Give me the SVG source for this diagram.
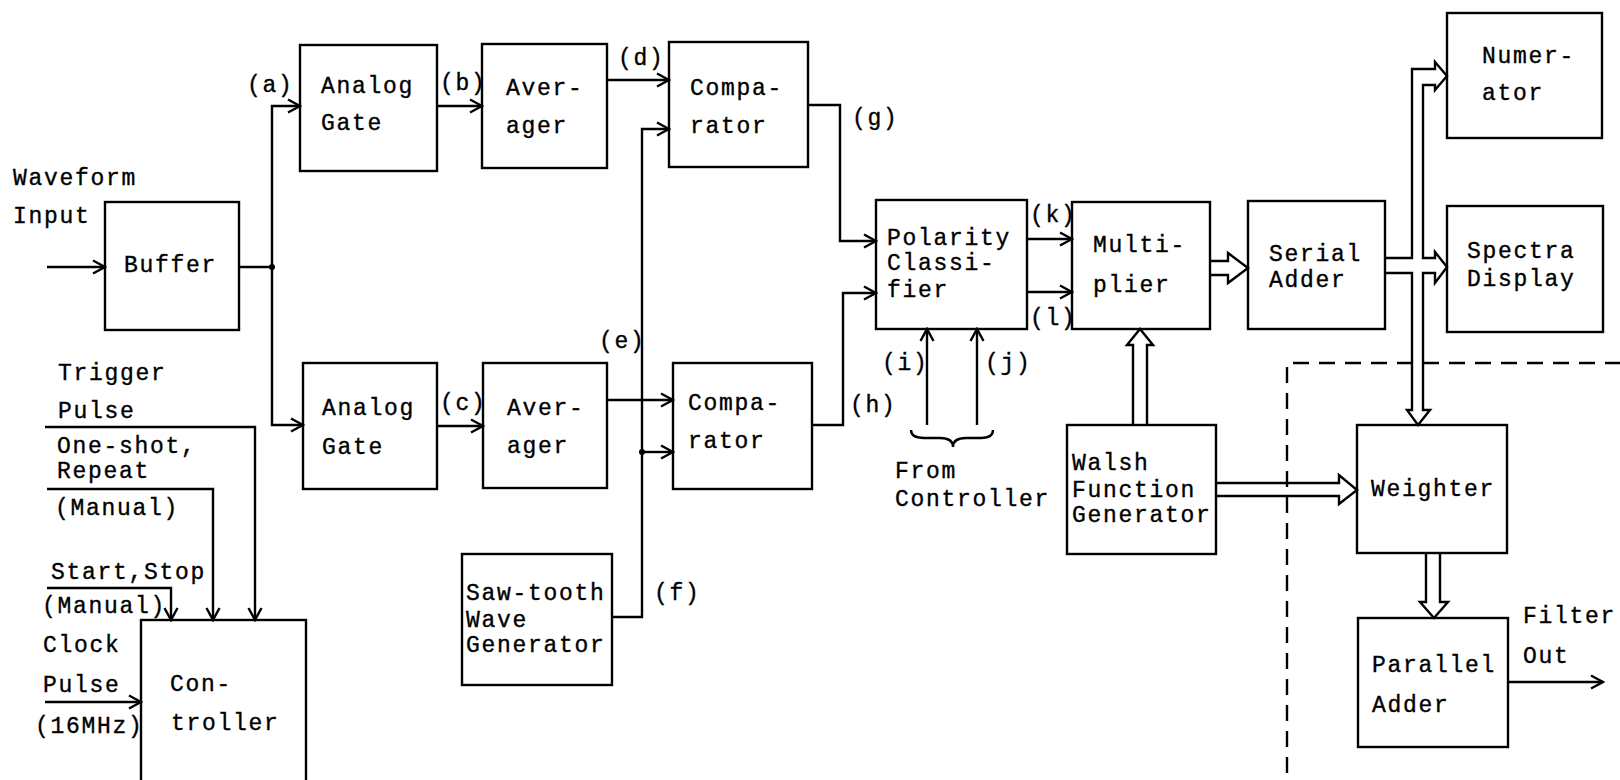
<svg xmlns="http://www.w3.org/2000/svg" width="1620" height="780" viewBox="0 0 1620 780">
<style>
  .box{fill:none;stroke:#000;stroke-width:2.4}
  .ln{fill:none;stroke:#000;stroke-width:2.4;stroke-linejoin:miter}
  .bus{fill:none;stroke:#000;stroke-width:2.4;stroke-linejoin:miter}
  .dash{fill:none;stroke:#000;stroke-width:2.4;stroke-dasharray:16 10}
  text{font-family:"Liberation Mono","DejaVu Sans Mono",monospace;font-size:23px;letter-spacing:1.7px;fill:#000;stroke:#000;stroke-width:0.35}
</style>
<defs>
  <marker id="arr" markerUnits="userSpaceOnUse" markerWidth="16" markerHeight="16" viewBox="0 0 16 16" refX="14" refY="8" orient="auto">
    <path d="M2,1.5 L14,8 L2,14.5" fill="none" stroke="#000" stroke-width="2.4"/>
  </marker>
</defs>
<rect width="1620" height="780" fill="#fff"/>

<g id="connectors">
  <path class="ln" d="M47,267 H105" marker-end="url(#arr)"/>
  <path class="ln" d="M239,267 H272"/>
  <path class="ln" d="M272,267 V106 H300" marker-end="url(#arr)"/>
  <path class="ln" d="M272,267 V425 H303" marker-end="url(#arr)"/>
  <circle cx="272" cy="267" r="3" fill="#000"/>
  <path class="ln" d="M437,106 H482" marker-end="url(#arr)"/>
  <path class="ln" d="M437,426 H483" marker-end="url(#arr)"/>
  <path class="ln" d="M607,80 H669" marker-end="url(#arr)"/>
  <path class="ln" d="M607,400 H673" marker-end="url(#arr)"/>
  <path class="ln" d="M612,617 H642 V129 H669" marker-end="url(#arr)"/>
  <path class="ln" d="M642,452 H673" marker-end="url(#arr)"/>
  <circle cx="642" cy="452" r="3" fill="#000"/>
  <path class="ln" d="M808,105 H840 V241 H876" marker-end="url(#arr)"/>
  <path class="ln" d="M812,425 H843 V293 H876" marker-end="url(#arr)"/>
  <path class="ln" d="M1027,239 H1072" marker-end="url(#arr)"/>
  <path class="ln" d="M1027,292 H1072" marker-end="url(#arr)"/>
  <path class="ln" d="M927,425 V329" marker-end="url(#arr)"/>
  <path class="ln" d="M977,425 V329" marker-end="url(#arr)"/>
  <path class="ln" d="M911,430 Q911,438 924,438 L940,438 Q953,438 953,447 Q953,438 966,438 L981,438 Q993,438 993,430"/>
  <path class="ln" d="M45,427 H255 V620" marker-end="url(#arr)"/>
  <path class="ln" d="M47,489 H213 V620" marker-end="url(#arr)"/>
  <path class="ln" d="M47,588 H171 V620" marker-end="url(#arr)"/>
  <path class="ln" d="M45,702 H141" marker-end="url(#arr)"/>
  <path class="ln" d="M1508,682 H1603" marker-end="url(#arr)"/>
  <path class="bus" d="M1210,261 H1228 V253 L1248,268 L1228,283 V275 H1210"/>
  <path class="bus" d="M1133,425 V345 H1127 L1140,329 L1153,345 H1147 V425"/>
  <path class="bus" d="M1216,483 H1339 V475 L1357,490 L1339,504 V496 H1216"/>
  <path class="bus" d="M1426,553 V602 H1420 L1434,618 L1448,602 H1440 V553"/>
  <path class="bus" d="M1385,258 H1412 V69 H1435 V62 L1447,76 L1435,90 V85 H1423 V258 H1435 V252 L1447,267 L1435,283 V273 H1423 V410 H1430 L1418,425 L1407,410 H1412 V273 H1385"/>
  <path class="dash" d="M1287,773 V363 H1620"/>
</g>

<g id="buffer"><rect class="box" x="105" y="202" width="134" height="128"/><text x="124" y="272">Buffer</text></g>
<g id="analog-gate-1"><rect class="box" x="300" y="45" width="137" height="126"/><text x="321" y="93">Analog</text><text x="321" y="130">Gate</text></g>
<g id="averager-1"><rect class="box" x="482" y="44" width="125" height="124"/><text x="506" y="95">Aver-</text><text x="506" y="133">ager</text></g>
<g id="comparator-1"><rect class="box" x="669" y="42" width="139" height="125"/><text x="690" y="95">Compa-</text><text x="690" y="133">rator</text></g>
<g id="analog-gate-2"><rect class="box" x="303" y="363" width="134" height="126"/><text x="322" y="415">Analog</text><text x="322" y="454">Gate</text></g>
<g id="averager-2"><rect class="box" x="483" y="363" width="124" height="125"/><text x="507" y="415">Aver-</text><text x="507" y="453">ager</text></g>
<g id="comparator-2"><rect class="box" x="673" y="363" width="139" height="126"/><text x="688" y="410">Compa-</text><text x="688" y="448">rator</text></g>
<g id="sawtooth"><rect class="box" x="462" y="554" width="150" height="131"/><text x="466" y="600">Saw-tooth</text><text x="466" y="627">Wave</text><text x="466" y="652">Generator</text></g>
<g id="controller"><rect class="box" x="141" y="620" width="165" height="175"/><text x="170" y="691">Con-</text><text x="171" y="730">troller</text></g>
<g id="polarity"><rect class="box" x="876" y="200" width="151" height="129"/><text x="887" y="245">Polarity</text><text x="887" y="270">Classi-</text><text x="887" y="297">fier</text></g>
<g id="multiplier"><rect class="box" x="1072" y="202" width="138" height="127"/><text x="1093" y="252">Multi-</text><text x="1093" y="292">plier</text></g>
<g id="walsh"><rect class="box" x="1067" y="425" width="149" height="129"/><text x="1072" y="470">Walsh</text><text x="1072" y="497">Function</text><text x="1072" y="522">Generator</text></g>
<g id="serial-adder"><rect class="box" x="1248" y="201" width="137" height="128"/><text x="1269" y="261">Serial</text><text x="1269" y="287">Adder</text></g>
<g id="numerator"><rect class="box" x="1447" y="13" width="155" height="125"/><text x="1482" y="63">Numer-</text><text x="1482" y="100">ator</text></g>
<g id="spectra"><rect class="box" x="1447" y="206" width="156" height="126"/><text x="1467" y="258">Spectra</text><text x="1467" y="286">Display</text></g>
<g id="weighter"><rect class="box" x="1357" y="425" width="150" height="128"/><text x="1371" y="496">Weighter</text></g>
<g id="parallel-adder"><rect class="box" x="1358" y="618" width="150" height="129"/><text x="1372" y="672">Parallel</text><text x="1372" y="712">Adder</text></g>

<g id="labels">
  <text x="13" y="185">Waveform</text><text x="13" y="223">Input</text>
  <text x="58" y="380">Trigger</text><text x="58" y="418">Pulse</text>
  <text x="57" y="453">One-shot,</text><text x="57" y="478">Repeat</text>
  <text x="55" y="515">(Manual)</text>
  <text x="51" y="579">Start,Stop</text>
  <text x="42" y="613">(Manual)</text>
  <text x="43" y="652">Clock</text><text x="43" y="692">Pulse</text><text x="35" y="733">(16MHz)</text>
  <text x="247" y="92">(a)</text>
  <text x="440" y="90">(b)</text>
  <text x="440" y="410">(c)</text>
  <text x="618" y="65">(d)</text>
  <text x="599" y="348">(e)</text>
  <text x="654" y="600">(f)</text>
  <text x="852" y="125">(g)</text>
  <text x="850" y="412">(h)</text>
  <text x="882" y="370">(i)</text>
  <text x="985" y="370">(j)</text>
  <text x="1030" y="222">(k)</text>
  <text x="1030" y="325">(l)</text>
  <text x="895" y="478">From</text><text x="895" y="506">Controller</text>
  <text x="1523" y="623">Filter</text><text x="1523" y="663">Out</text>
</g>
</svg>
